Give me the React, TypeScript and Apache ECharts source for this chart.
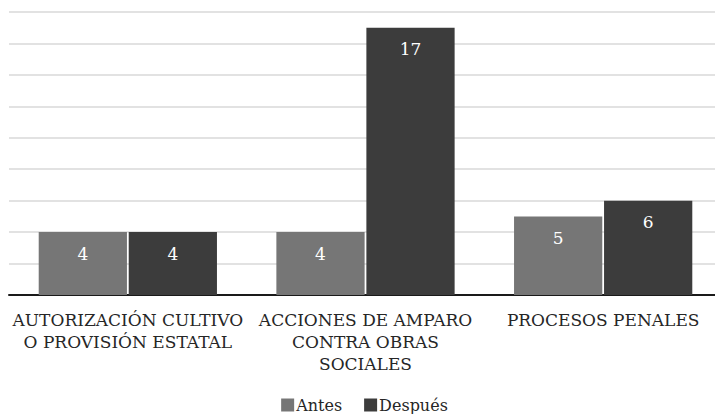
import React, { useEffect, useRef } from "react";
import * as echarts from "echarts";

const categories = [
  "AUTORIZACIÓN CULTIVO\nO PROVISIÓN ESTATAL",
  "ACCIONES DE AMPARO\nCONTRA OBRAS\nSOCIALES",
  "PROCESOS PENALES",
];
const antes = [4, 4, 5];
const despues = [4, 17, 6];
const seriesNames = ["Antes", "Después"];

const FONT = "DejaVu Serif";

export default function App() {
  const ref = useRef<HTMLDivElement>(null);
  useEffect(() => {
    if (!ref.current) return;
    const chart = echarts.init(ref.current, undefined, { renderer: "svg" });
    const label = {
      show: true,
      position: "insideTop" as const,
      distance: 13,
      color: "#ffffff",
      fontFamily: FONT,
      fontSize: 17,
    };
    chart.setOption({
      animation: false,
      backgroundColor: "#ffffff",
      textStyle: { fontFamily: FONT },
      grid: { left: 9, right: 7, top: 12, bottom: 119, containLabel: false },
      legend: {
        bottom: -4,
        left: "center",
        itemWidth: 13,
        itemHeight: 13,
        itemGap: 22,
        icon: "rect",
        textStyle: { fontFamily: FONT, fontSize: 16, color: "#262626", padding: [0, 0, 0, -3] },
        data: seriesNames,
      },
      xAxis: {
        type: "category",
        data: categories,
        axisLine: { show: true, lineStyle: { color: "#1a1a1a", width: 2 } },
        axisTick: { show: false },
        axisLabel: {
          interval: 0,
          margin: 14,
          fontFamily: FONT,
          fontSize: 17,
          color: "#262626",
          lineHeight: 22,
          align: "center",
        },
      },
      yAxis: {
        type: "value",
        min: 0,
        max: 18,
        interval: 2,
        axisLabel: { show: false },
        axisLine: { show: false },
        axisTick: { show: false },
        splitLine: { show: true, lineStyle: { color: "#d9d9d9", width: 1.5 } },
      },
      series: [
        {
          name: seriesNames[0],
          type: "bar",
          data: antes,
          itemStyle: { color: "#767676" },
          barGap: "2%",
          barCategoryGap: "25%",
          label,
        },
        {
          name: seriesNames[1],
          type: "bar",
          data: despues,
          itemStyle: { color: "#3c3c3c" },
          label,
        },
      ],
    });
    return () => chart.dispose();
  }, []);
  return (
    <div
      ref={ref}
      style={{ position: "fixed", left: 0, top: 0, width: 729, height: 414 }}
    />
  );
}
